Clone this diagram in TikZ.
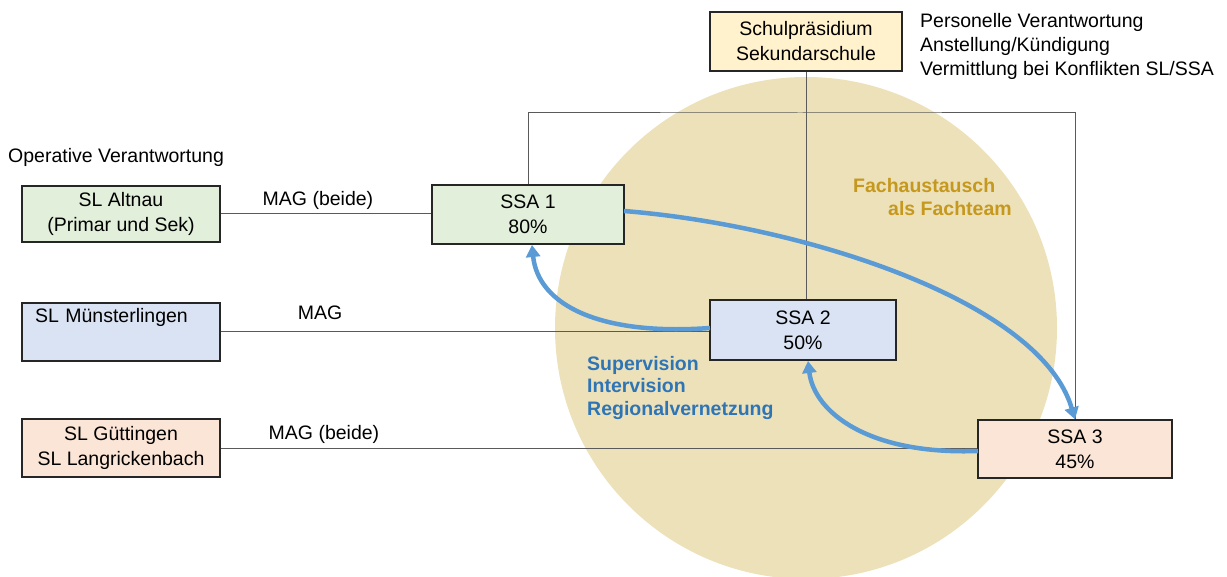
\documentclass[tikz,border=0pt]{standalone}
\usepackage{fontspec}
\setmainfont{Liberation Sans}
\usetikzlibrary{arrows.meta,backgrounds}
\definecolor{circfill}{RGB}{237,225,186}
\definecolor{yelbox}{RGB}{255,242,204}
\definecolor{grnbox}{RGB}{226,239,218}
\definecolor{blubox}{RGB}{218,227,243}
\definecolor{orabox}{RGB}{251,229,214}
\definecolor{arrblue}{RGB}{91,155,213}
\definecolor{txtblue}{RGB}{46,117,182}
\definecolor{txtgold}{RGB}{197,152,30}
\definecolor{linegray}{RGB}{90,90,90}
\tikzset{
  box/.style={draw=black!85, line width=1.3pt, inner sep=0pt, align=center,
    font=\fontsize{19.5}{25}\selectfont},
  conn/.style={draw=linegray, line width=1pt},
  flow/.style={draw=arrblue, line width=4.5pt, -{Triangle[width=14pt,length=12pt]}},
  plain/.style={inner sep=0pt, font=\fontsize{19.5}{24}\selectfont},
  bluetxt/.style={inner sep=0pt, align=left, text=txtblue, font=\fontsize{19.5}{22.5}\selectfont\bfseries},
  goldtxt/.style={inner sep=0pt, text=txtgold, font=\fontsize{19.5}{23}\selectfont\bfseries}
}
\begin{document}
\begin{tikzpicture}[x=1pt,y=-1pt]
\useasboundingbox (0,0) rectangle (1227,577);
% boxes
\node[box, fill=yelbox, minimum width=192, minimum height=59] (sp) at (806,41.5) {Schulpräsidium\\Sekundarschule};
\node[box, fill=grnbox, minimum width=198, minimum height=56] (alt) at (121,214) {SL Altnau\\(Primar und Sek)};
\node[box, fill=blubox, minimum width=198, minimum height=58, text width=172, align=left, inner xsep=13pt] (mue) at (121,332) {SL Münsterlingen\\\strut};
\node[box, fill=orabox, minimum width=198, minimum height=58] (gut) at (121,448) {SL Güttingen\\SL Langrickenbach};
\node[box, fill=grnbox, minimum width=192, minimum height=59] (ssa1) at (528,214.5) {SSA 1\\80\%};
\node[box, fill=blubox, minimum width=186, minimum height=60] (ssa2) at (803,330) {SSA 2\\50\%};
\node[box, fill=orabox, minimum width=194, minimum height=58] (ssa3) at (1075,449) {SSA 3\\45\%};
% circle and connectors behind the boxes
\coordinate (brk) at (800,113);
\begin{scope}[on background layer]
\fill[circfill] (806,328) circle (251);
\draw[conn] (ssa1.north) |- (brk) -| (ssa3.north);
\draw[conn] (sp.south) -- (sp.south |- ssa2.north);
\draw[conn] (alt.east) -- (alt.east -| ssa1.west);
\draw[conn] (mue.east) -- (mue.east -| ssa2.west);
\draw[conn] (gut.east) -- (gut.east -| ssa3.west);
\end{scope}
% blue flows
\coordinate (a1s) at (624,211);
\coordinate (a2s) at (710,328);
\coordinate (a2e) at (532,245);
\coordinate (a3s) at (978,451);
\coordinate (a3e) at (808,361);
\draw[flow] (a1s) .. controls (800,225) and (1040,300) .. (ssa3.north);
\draw[flow] (a2s) .. controls (600,336) and (538,305) .. (a2e);
\draw[flow] (a3s) .. controls (868,455) and (814,412) .. (a3e);
% texts
\node[plain, anchor=west, align=left] (pers) at (920,46) {Personelle Verantwortung\\Anstellung/Kündigung\\Vermittlung bei Konflikten SL/SSA};
\node[plain, anchor=west] (oper) at (8,157) {Operative Verantwortung};
\node[plain] (mag1) at (318,200) {MAG (beide)};
\node[plain] (mag2) at (320,313) {MAG};
\node[plain] (mag3) at (324,434) {MAG (beide)};
\node[goldtxt, anchor=west] (fach1) at (853,186) {Fachaustausch};
\node[goldtxt, anchor=west] (fach2) at (888,209) {als Fachteam};
\node[bluetxt, anchor=west] (sup) at (587,388) {Supervision\\Intervision\\Regionalvernetzung};
\end{tikzpicture}
\end{document}
